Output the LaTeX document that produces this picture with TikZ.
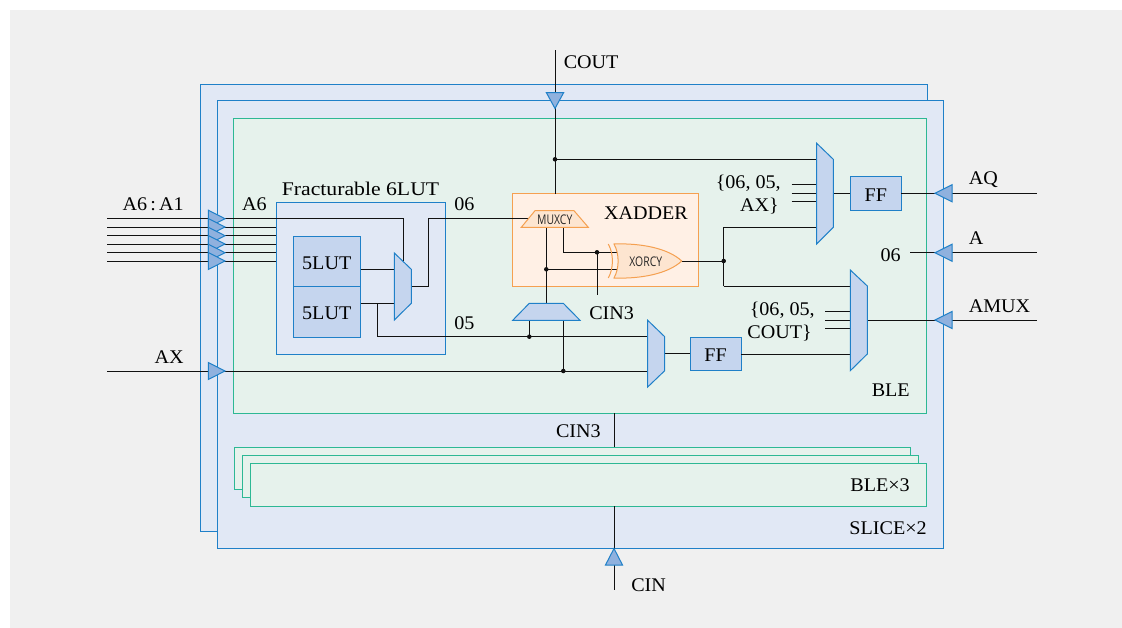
\documentclass[tikz,border=0pt]{standalone}
\usepackage{fontspec}
\setmainfont[FakeStretch=1.04]{Liberation Serif}
\newfontfamily\smallsans{Open Sans}
\definecolor{bgc}{HTML}{F0F0F0}
\definecolor{slicef}{HTML}{E1E8F5}
\definecolor{bluel}{HTML}{1F80C8}
\definecolor{blef}{HTML}{E6F2EC}
\definecolor{bleb}{HTML}{2DB894}
\definecolor{lutf}{HTML}{C5D5EE}
\definecolor{trif}{HTML}{8FB1DE}
\definecolor{orf}{HTML}{FFF0E5}
\definecolor{orp}{HTML}{FDE5D0}
\definecolor{orb}{HTML}{F5A050}
\definecolor{wirec}{HTML}{111111}
\tikzset{
  x=0.75pt,y=-0.75pt,
  boxbase/.style={draw,rectangle,inner sep=0,outer sep=0,line width=0.75pt},
  slicebox/.style={boxbase,draw=bluel,fill=slicef},
  blebox/.style={boxbase,draw=bleb,fill=blef},
  lutbox/.style={boxbase,draw=bluel,fill=lutf},
  addbox/.style={boxbase,draw=orb,fill=orf},
  part/.style={draw=bluel,fill=lutf,line width=0.75pt,line join=miter},
  orpart/.style={draw=orb,fill=orp,line width=0.75pt},
  tri/.style={draw=bluel,fill=trif,line width=0.75pt},
  wire/.style={draw=wirec,line width=0.75pt},
  dot/.style={circle,fill=wirec,inner sep=0,minimum size=3.4pt},
  lab/.style={inner sep=0,text=black,font=\fontsize{14.5}{16}\selectfont},
  tiny/.style={inner sep=0,text=black!85,font=\smallsans\fontsize{10}{10}\selectfont},
}
\newcommand{\rbox}[6]{\node[#1,anchor=north west,minimum width=(#4-#2)*0.75pt,minimum height=(#5-#3)*0.75pt] (#6) at (#2,#3) {};}
\begin{document}
\begin{tikzpicture}
\useasboundingbox (0,0) rectangle (1122,628);
\fill[white] (0,0) rectangle (1122,628);
\fill[bgc] (10,10) rectangle (1122,628);
% containers
\rbox{slicebox}{200}{84}{927}{531}{sliceA}
\rbox{slicebox}{217}{100.5}{943.5}{548}{sliceB}
\rbox{blebox}{233.5}{118}{926.5}{413.3}{ble}
\rbox{blebox}{234}{447}{910}{489.3}{bleA}
\rbox{blebox}{242.3}{455.5}{918.5}{497.7}{bleB}
\rbox{blebox}{250.7}{463.7}{926.5}{506.3}{bleC}
\rbox{slicebox}{276}{202}{445}{354}{frac}
\rbox{lutbox}{293}{236}{360.5}{286.7}{lutA}
\rbox{lutbox}{293}{286.7}{360.5}{337}{lutB}
\node[lab] at ([yshift=-1.2pt]lutA.center) {5LUT};
\node[lab] at ([yshift=-1.2pt]lutB.center) {5LUT};
\rbox{addbox}{512.7}{193.7}{698.3}{286.3}{xadd}
\rbox{lutbox}{690}{337.3}{741}{370.7}{ffB}
\rbox{lutbox}{850.3}{176.7}{901.3}{210.3}{ffA}
\node[lab] at ([yshift=-1.2pt]ffA.center) {FF};
\node[lab] at ([yshift=-1.2pt]ffB.center) {FF};
% named pins
\foreach \n/\y in {1/218.7,2/227,3/235.7,4/244,5/252.7,6/261}{
  \coordinate (inL\n) at (107,\y);
  \coordinate (inR\n) at (276,\y);
  \draw[wire] (inL\n)--(inR\n);
}
\coordinate (a6turn) at (403,218.7);
\coordinate (lutmuxin) at (403,261);
\coordinate (lutmuxA) at (394.3,269.3);
\coordinate (lutmuxB) at (394.3,303.3);
\coordinate (lutmuxO) at (411.3,286.7);
\coordinate (o6up) at (428.3,286.7);
\coordinate (o6top) at (428.3,218.7);
\coordinate (muxcyin) at (528,218.7);
\coordinate (lutAo) at (360.5,269.3);
\coordinate (lutBo) at (360.5,303.3);
\coordinate (o5t) at (377.3,303.3);
\coordinate (o5b) at (377.3,336.7);
\coordinate (j529) at (529.3,336.7);
\coordinate (m2a) at (647.7,336.7);
\coordinate (axL) at (107,371);
\coordinate (j563) at (563.3,371);
\coordinate (m2b) at (647.7,371);
\coordinate (m2o) at (664.7,353.7);
\coordinate (ffBi) at (690,353.7);
\coordinate (ffBo) at (741,354);
\coordinate (m3c) at (850.3,354);
\coordinate (coutT) at (555,50);
\coordinate (coutJ) at (555,159.3);
\coordinate (coutB) at (555,193.7);
\coordinate (m1a) at (816.7,159.3);
\coordinate (cyL) at (546.3,227.3);
\coordinate (cyJ) at (546.3,269.3);
\coordinate (cyB) at (546.3,303.3);
\coordinate (cyR) at (563.3,227.3);
\coordinate (cyT) at (563.3,252.3);
\coordinate (cinJ) at (597,252.3);
\coordinate (cinE) at (597,295);
\coordinate (xa) at (618,252.3);
\coordinate (xb) at (618,269.3);
\coordinate (tL) at (529.3,320.3);
\coordinate (tR) at (563.3,320.3);
\coordinate (xo) at (681.7,261);
\coordinate (oJ) at (723.7,261);
\coordinate (oU) at (723.7,227.3);
\coordinate (oD) at (723.7,286.3);
\coordinate (m1d) at (816.7,227.3);
\coordinate (m3a) at (850.3,286.3);
\coordinate (m1o) at (833.3,193.3);
\coordinate (ffAi) at (850.3,193.3);
\coordinate (ffAo) at (901.3,193.3);
\coordinate (aqR) at (1037,193.3);
\coordinate (a06) at (910,252.7);
\coordinate (aR) at (1037,252.7);
\coordinate (m3o) at (867.3,320);
\coordinate (amR) at (1037,320);
\coordinate (cin3T) at (614,413.3);
\coordinate (cin3B) at (614,447);
\coordinate (cinT) at (614,506.3);
\coordinate (cinB) at (614,590);
\foreach \y in {184.7,193.3,201.7}{\coordinate (s) at (791.7,\y);\coordinate (e) at (816.7,\y);\draw[wire] (s)--(e);}
\foreach \y in {311.7,320,328.7}{\coordinate (s) at (825.3,\y);\coordinate (e) at (850.3,\y);\draw[wire] (s)--(e);}
% wires
\draw[wire] (inR1)--(a6turn)--(lutmuxin);
\draw[wire] (lutAo)--(lutmuxA);
\draw[wire] (lutBo)--(lutmuxB);
\draw[wire] (lutmuxO)--(o6up)--(o6top)--(muxcyin);
\draw[wire] (o5t)--(o5b)--(m2a);
\draw[wire] (axL)--(m2b);
\draw[wire] (m2o)--(ffBi);
\draw[wire] (ffBo)--(m3c);
\draw[wire] (coutT)--(coutB);
\draw[wire] (coutJ)--(m1a);
\draw[wire] (cyL)--(cyB);
\draw[wire] (cyR)--(cyT)--(xa);
\draw[wire] (cinJ)--(cinE);
\draw[wire] (cyJ)--(xb);
\draw[wire] (tL)--(j529);
\draw[wire] (tR)--(j563);
\draw[wire] (xo)--(oJ);
\draw[wire] (oD)--(oU)--(m1d);
\draw[wire] (oD)--(m3a);
\draw[wire] (m1o)--(ffAi);
\draw[wire] (ffAo)--(aqR);
\draw[wire] (a06)--(aR);
\draw[wire] (m3o)--(amR);
\draw[wire] (cin3T)--(cin3B);
\draw[wire] (cinT)--(cinB);
% dots
\foreach \c in {coutJ,cyJ,cinJ,j529,j563,oJ}{\node[dot] at (\c) {};}
% parts
\path[part] (394.3,253)--(411.3,269.3)--(411.3,303.3)--(394.3,320)--cycle;
\path[part] (647.7,320.3)--(664.7,336.7)--(664.7,370.7)--(647.7,387)--cycle;
\path[part] (816.7,143.3)--(833.3,159.3)--(833.3,227.3)--(816.7,244)--cycle;
\path[part] (850.3,270)--(867.3,286)--(867.3,354)--(850.3,370.7)--cycle;
\path[part] (512.7,320.3)--(529.3,303.3)--(563.3,303.3)--(580,320.3)--cycle;
\path[orpart] (521.3,227.3)--(535,210.7)--(574,210.7)--(588.3,227.3)--cycle;
\node[tiny] at (554.8,220) {\scalebox{.78}[1]{MUXCY}};
% XORCY
\path[orpart] (614,244) .. controls (619.5,254) and (619.5,268) .. (614,278)
  .. controls (640,279) and (668,274) .. (681.7,261)
  .. controls (668,248) and (640,243) .. (614,244) -- cycle;
\draw[orb,line width=0.75pt] (608.3,244) .. controls (613.8,254) and (613.8,268) .. (608.3,278);
\node[tiny] at (645.8,262) {\scalebox{.78}[1]{XORCY}};
% triangles
\foreach \y in {218.7,227,235.7,244,252.7,261,371}{\path[tri] (208.3,\y-8.5)--(225,\y)--(208.3,\y+8.5)--cycle;}
\foreach \y in {193.3,252.7,320}{\path[tri] (952,\y-8.5)--(935,\y)--(952,\y+8.5)--cycle;}
\path[tri] (546.3,92.5)--(563.7,92.5)--(555,108.5)--cycle;
\path[tri] (605.5,565)--(622.5,565)--(614,548.5)--cycle;
% labels
\node[lab,anchor=west] at (563.5,62) {COUT};
\node[lab,anchor=west] at (631,585.5) {CIN};
\node[lab,anchor=east] at (184,204.5) {A6\,:\,A1};
\node[lab,anchor=east] at (184,357.5) {AX};
\node[lab,anchor=east] at (267,204.5) {A6};
\node[lab,anchor=center] at (360.5,188.5) {\scalebox{1.08}[1]{Fracturable 6LUT}};
\node[lab,anchor=west] at (454,204.5) {06};
\node[lab,anchor=west] at (454,323.5) {05};
\node[lab,anchor=center] at (646,213) {XADDER};
\node[lab,anchor=west] at (589,313.5) {CIN3};
\node[lab,anchor=east] at (601,431.5) {CIN3};
\node[lab,anchor=east] at (910,390.5) {BLE};
\node[lab,anchor=east] at (910,485.5) {BLE×3};
\node[lab,anchor=east] at (927,528.5) {SLICE×2};
\node[lab,anchor=west] at (968.5,179.5) {AQ};
\node[lab,anchor=west] at (968.5,238.5) {A};
\node[lab,anchor=west] at (968.5,306.5) {AMUX};
\node[lab,anchor=east] at (901,255.5) {06};
\node[lab,anchor=east] at (781,183.5) {\{06, 05,};
\node[lab,anchor=east] at (779,206.5) {AX\}};
\node[lab,anchor=east] at (815,310.5) {\{06, 05,};
\node[lab,anchor=east] at (812,333.5) {COUT\}};
\end{tikzpicture}
\end{document}
